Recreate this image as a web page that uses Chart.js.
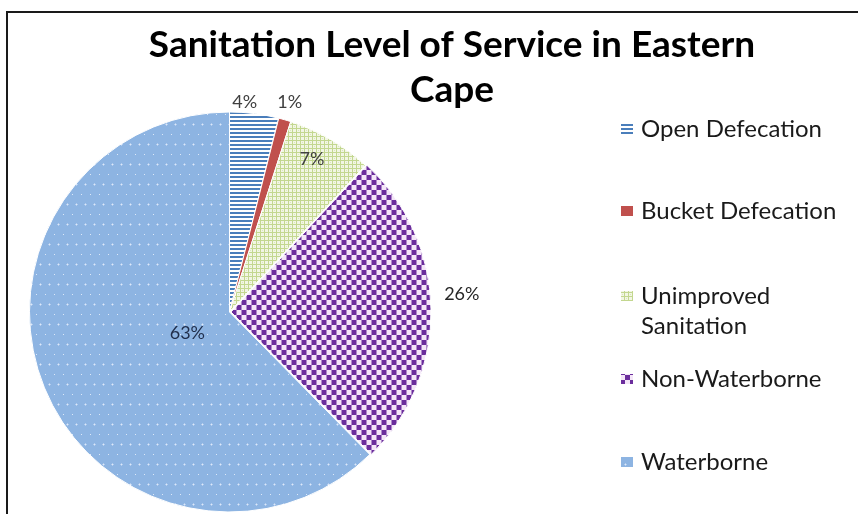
<!DOCTYPE html>
<html>
<head>
<meta charset="utf-8">
<script src="https://cdn.jsdelivr.net/npm/chart.js@4.4.1/dist/chart.umd.min.js"></script>
<style>
  html, body { margin: 0; padding: 0; background: #fff; overflow: hidden; }
  #wrap { position: absolute; left: 0; top: 0; width: 858px; height: 524px; }
  #frame { position: absolute; left: 6px; top: 11px; width: 852px; height: 520px;
           border-left: 2px solid #1a1a1a; border-top: 2px solid #1a1a1a; pointer-events: none; }
</style>
</head>
<body>
<div id="wrap"><canvas id="chart1"></canvas></div>
<div id="frame"></div>
<script>
  // datos del gráfico
  const titleLines = ['Sanitation Level of Service in Eastern', 'Cape'];
  const categories = ['Open Defecation', 'Bucket Defecation', 'Unimproved Sanitation', 'Non-Waterborne', 'Waterborne'];
  const legendLines = [['Open Defecation'], ['Bucket Defecation'], ['Unimproved', 'Sanitation'], ['Non-Waterborne'], ['Waterborne']];
  const shares = [4, 1, 7, 26, 63];
  const shareLabels = shares.map(v => v + '%');

  // patrones de relleno (estilo Excel)
  function makePattern(w, h, paint) {
    const c = document.createElement('canvas');
    c.width = w; c.height = h;
    const g = c.getContext('2d');
    paint(g);
    return c;
  }
  const tiles = [
    makePattern(4, 4, g => {            // rayas horizontales
      g.fillStyle = '#ffffff'; g.fillRect(0, 0, 4, 4);
      g.fillStyle = '#4a7ebb'; g.fillRect(0, 0, 4, 2);
    }),
    makePattern(4, 4, g => {            // sólido rojo
      g.fillStyle = '#c0504d'; g.fillRect(0, 0, 4, 4);
    }),
    makePattern(8, 8, g => {            // enrejado verde claro
      g.fillStyle = '#f2f6e4'; g.fillRect(0, 0, 8, 8);
      g.fillStyle = '#c3d78f';
      g.fillRect(0, 0, 8, 1); g.fillRect(0, 4, 8, 1);
      g.fillRect(0, 0, 1, 8); g.fillRect(4, 0, 1, 8);
      g.fillStyle = '#dbe7bb';
      g.fillRect(2, 2, 1, 1); g.fillRect(6, 6, 1, 1);
    }),
    makePattern(10, 10, g => {          // tablero morado
      g.fillStyle = '#f4e6f8'; g.fillRect(0, 0, 10, 10);
      g.fillStyle = '#6b2d9c'; g.fillRect(0, 0, 5, 5); g.fillRect(5, 5, 5, 5);
    }),
    makePattern(18, 20, g => {          // azul con puntos
      g.fillStyle = '#8db4e2'; g.fillRect(0, 0, 18, 20);
      g.fillStyle = '#dde9f8';
      g.fillRect(4, 4, 1, 1); g.fillRect(13, 4, 1, 1);
      g.fillRect(0, 14, 1, 1); g.fillRect(9, 14, 1, 1);
      g.fillStyle = '#b4cdee';
      g.fillRect(3, 4, 1, 1); g.fillRect(5, 4, 1, 1); g.fillRect(4, 3, 1, 1); g.fillRect(4, 5, 1, 1);
      g.fillRect(12, 4, 1, 1); g.fillRect(14, 4, 1, 1); g.fillRect(13, 3, 1, 1); g.fillRect(13, 5, 1, 1);
    })
  ];

  const ctx0 = document.createElement('canvas').getContext('2d');
  const fills = tiles.map(t => ctx0.createPattern(t, 'repeat'));

  // título centrado sobre el área del gráfico
  const titlePlugin = {
    id: 'excelTitle',
    afterDraw(chart) {
      const c = chart.ctx;
      c.save();
      c.fillStyle = '#000';
      c.font = 'bold 37px Lato';
      c.textAlign = 'center';
      c.textBaseline = 'middle';
      titleLines.forEach((t, i) => c.fillText(t, 452, 45 + i * 45));
      c.restore();
    }
  };

  // etiquetas de porcentaje
  const labelPlugin = {
    id: 'sliceLabels',
    afterDatasetsDraw(chart, args, opts) {
      const c = chart.ctx;
      const meta = chart.getDatasetMeta(0);
      c.save();
      c.font = '18px Lato';
      c.textAlign = 'center';
      c.textBaseline = 'middle';
      meta.data.forEach((arc, i) => {
        const p = arc.getProps(['x', 'y', 'startAngle', 'endAngle', 'outerRadius'], true);
        const mid = (p.startAngle + p.endAngle) / 2 + opts.turn[i] * Math.PI / 180;
        const r = p.outerRadius * opts.dist[i];
        c.fillStyle = opts.colors[i];
        c.fillText(shareLabels[i], p.x + Math.cos(mid) * r, p.y + Math.sin(mid) * r);
      });
      c.restore();
    }
  };

  // leyenda a la derecha
  const legendPlugin = {
    id: 'sideLegend',
    afterDraw(chart, args, opts) {
      const c = chart.ctx;
      c.save();
      c.font = '24px Lato';
      c.textBaseline = 'middle';
      legendLines.forEach((lines, i) => {
        const y = opts.rows[i];
        c.fillStyle = fills[i];
        c.fillRect(opts.x, y - 5, 12, 10);
        c.fillStyle = '#1a1a1a';
        lines.forEach((t, j) => c.fillText(t, opts.x + 20, y + j * 30));
      });
      c.restore();
    }
  };

  new Chart(document.getElementById('chart1'), {
    type: 'pie',
    data: {
      labels: categories,
      datasets: [{
        data: shares,
        backgroundColor: fills,
        borderColor: '#ffffff',
        borderWidth: 1,
        offset: [0, 0, 0, 6, 0]
      }]
    },
    options: {
      responsive: true,
      maintainAspectRatio: false,
      animation: false,
      layout: { padding: { left: 26, top: 108, right: 425, bottom: 8 } },
      plugins: {
        legend: { display: false },
        title: { display: false },
        tooltip: { enabled: false },
        sliceLabels: {
          dist: [1.05, 1.09, 0.87, 1.165, 0.235],
          turn: [-3, 0, -2, -3.5, -4],
          colors: ['#404040', '#404040', '#404040', '#262626', '#1f2d4a']
        },
        sideLegend: { x: 621, rows: [129, 211, 296, 379, 462] }
      }
    },
    plugins: [labelPlugin, titlePlugin, legendPlugin]
  });
</script>
</body>
</html>
